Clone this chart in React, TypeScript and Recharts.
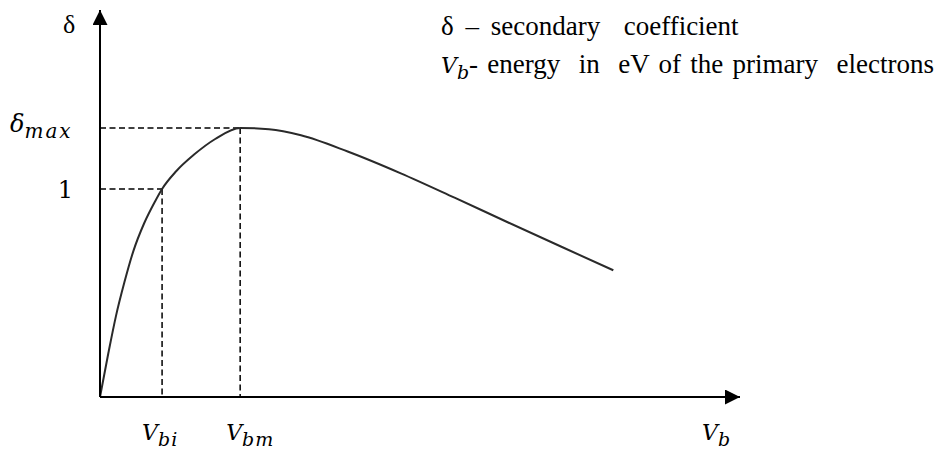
import { LineChart, Line, XAxis, YAxis, ReferenceLine } from "recharts";

// secondary emission yield curve: primary energy (arb. units) vs delta
const energy = [0, 13, 25, 38, 52, 69, 86, 97, 119, 147, 180, 219, 264, 314, 387, 470, 554, 637, 721, 802];
const delta = [0, 0.21, 0.39, 0.55, 0.7, 0.835, 0.94, 1.0, 1.085, 1.165, 1.24, 1.293, 1.287, 1.258, 1.18, 1.075, 0.958, 0.84, 0.722, 0.609];

// marked points on the axes
const V_BI = 97;
const V_BM = 219;
const DELTA_ONE = 1;
const DELTA_MAX = 1.293;

const xTicks = [V_BI, V_BM];
const yTicks = [DELTA_ONE, DELTA_MAX];
const xTickSubs: Record<number, string> = { [V_BI]: "bi", [V_BM]: "bm" };

const legendLine1 = "\u03b4 \u2013 secondary  coefficient";
const legendLine2 = "- energy  in  eV of the primary  electrons";

const data = energy.map((v, i) => ({ v, d: delta[i] }));

const MATH_FONT = "'DejaVu Serif', serif";
const TEXT_FONT = "'Liberation Serif', 'Times New Roman', serif";

const mathStyle = { fontFamily: MATH_FONT, fontStyle: "italic" as const };
const subStyle = { ...mathStyle, letterSpacing: 1 };
const textStyle = { fontFamily: TEXT_FONT, fontStyle: "normal" as const };

function XTick(props: any) {
  const { x, y, payload } = props;
  const sub = xTickSubs[payload.value];
  const dx = payload.value === V_BI ? -20 : -14;
  return (
    <text x={x + dx} y={y + 43} style={mathStyle} fill="#000">
      <tspan fontSize={22}>V</tspan>
      <tspan fontSize={19} dy={6} style={subStyle}>{sub}</tspan>
    </text>
  );
}

function YTick(props: any) {
  const { x, y, payload } = props;
  if (payload.value === DELTA_ONE) {
    return (
      <text x={x - 27} y={y + 9} textAnchor="end" style={{ fontFamily: MATH_FONT }} fontSize={24} fill="#000">
        1
      </text>
    );
  }
  return (
    <text x={x - 90} y={y + 4} style={mathStyle} fill="#000">
      <tspan fontSize={24}>{"\u03b4"}</tspan>
      <tspan fontSize={20} dy={6} style={{ ...mathStyle, letterSpacing: 2 }}>max</tspan>
    </text>
  );
}

function XLabel(props: any) {
  const { viewBox } = props;
  return (
    <text x={viewBox.x + viewBox.width - 38} y={viewBox.y + 43} style={mathStyle} fill="#000">
      <tspan fontSize={22}>V</tspan>
      <tspan fontSize={19} dy={6}>b</tspan>
    </text>
  );
}

function YLabel(props: any) {
  const { viewBox } = props;
  return (
    <text x={63} y={viewBox.y + 23} style={textStyle} fontSize={26} fill="#000">
      {"\u03b4"}
    </text>
  );
}

const dashed = { stroke: "#000", strokeWidth: 1.5, strokeDasharray: "6 3.5" };

export default function App() {
  return (
    <div style={{ position: "absolute", left: 0, top: 0, width: 943, height: 454, background: "#fff" }}>
      <LineChart width={943} height={454} data={data} margin={{ top: 10, right: 203, bottom: 0, left: 0 }}>
        <defs>
          <marker
            id="arrowHead"
            viewBox="0 0 10 10"
            refX={10}
            refY={5}
            markerUnits="userSpaceOnUse"
            markerWidth={15}
            markerHeight={15}
            orient="auto-start-reverse"
          >
            <path d="M0,0 L10,5 L0,10 z" fill="#000" />
          </marker>
        </defs>
        <XAxis
          dataKey="v"
          type="number"
          domain={[0, 1000]}
          ticks={xTicks}
          height={57}
          tickLine={false}
          tickSize={0}
          tickMargin={0}
          axisLine={{ stroke: "#000", strokeWidth: 2, markerEnd: "url(#arrowHead)" }}
          tick={<XTick />}
          label={{ content: <XLabel /> } as any}
        />
        <YAxis
          type="number"
          domain={[0, 1.86]}
          ticks={yTicks}
          width={100}
          tickLine={false}
          tickSize={0}
          tickMargin={0}
          axisLine={{ stroke: "#000", strokeWidth: 2, markerStart: "url(#arrowHead)" }}
          tick={<YTick />}
          label={{ content: <YLabel /> } as any}
        />
        <ReferenceLine segment={[{ x: 0, y: DELTA_ONE }, { x: V_BI, y: DELTA_ONE }]} {...dashed} />
        <ReferenceLine segment={[{ x: V_BI, y: DELTA_ONE }, { x: V_BI, y: 0 }]} {...dashed} />
        <ReferenceLine segment={[{ x: 0, y: DELTA_MAX }, { x: V_BM, y: DELTA_MAX }]} {...dashed} />
        <ReferenceLine segment={[{ x: V_BM, y: DELTA_MAX }, { x: V_BM, y: 0 }]} {...dashed} />
        <Line
          type="monotone"
          dataKey="d"
          stroke="#2a2a2a"
          strokeWidth={2}
          dot={false}
          activeDot={false}
          isAnimationActive={false}
        />
      </LineChart>
      <svg width={943} height={100} style={{ position: "absolute", left: 0, top: 0 }}>
        <text x={441} y={35} style={{ ...textStyle, whiteSpace: "pre", wordSpacing: 5 }} fontSize={27} fill="#000">
          {legendLine1}
        </text>
        <text x={441} y={73} fill="#000" style={{ whiteSpace: "pre" }}>
          <tspan style={mathStyle} fontSize={22}>V</tspan>
          <tspan style={mathStyle} fontSize={19} dy={6}>b</tspan>
          <tspan style={{ ...textStyle, wordSpacing: 2.5 }} fontSize={27} dy={-6}>{legendLine2}</tspan>
        </text>
      </svg>
    </div>
  );
}
